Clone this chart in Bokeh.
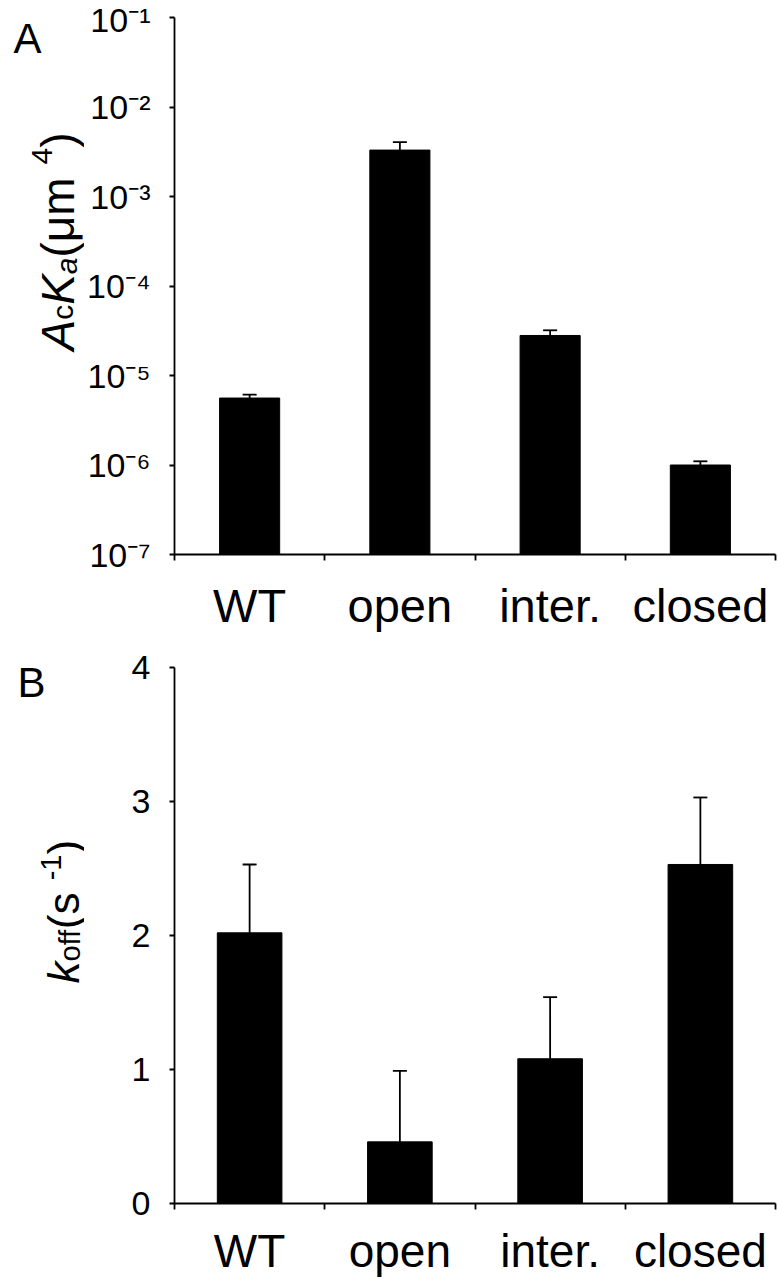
import math
from bokeh.plotting import figure
from bokeh.layouts import column, row
from bokeh.models import (ColumnDataSource, FixedTicker, CustomJSTickFormatter,
                          Whisker, TeeHead, Range1d)
from bokeh.core.properties import value, field
from bokeh.embed import file_html
from bokeh.resources import INLINE

# ---------------- data ----------------
categories = ["WT", "open", "inter.", "closed"]

acka_values = [5.6e-6, 3.3e-3, 2.8e-5, 1.0e-6]
acka_upper = [6.1e-6, 4.05e-3, 3.2e-5, 1.1e-6]
acka_ticks = [1e-7, 1e-6, 1e-5, 1e-4, 1e-3, 1e-2, 1e-1]
acka_tick_labels = ["10⁻⁷", "10⁻⁶", "10⁻⁵", "10⁻⁴", "10⁻³", "10⁻²", "10⁻¹"]

koff_values = [2.02, 0.46, 1.08, 2.53]
koff_errors = [0.51, 0.53, 0.46, 0.50]
koff_ticks = [0, 1, 2, 3, 4]

FONT = "Liberation Sans"

# ---------------- layout geometry (page pixels) ----------------
PAGE_W, PAGE_H = 778, 1279
LEFT_W = 84                      # strip holding panel letters and y titles
MAIN_W = PAGE_W - LEFT_W
FRAME_L, FRAME_R = 170, 775
A_H, A_TOP, A_BOT = 640, 17, 554
B_H, B_TOP, B_BOT = 639, 667, 1203

# advance widths (per em) for Arial-metric font
ADV = {"A": .667, "c": .5, "K": .667, "a": .556, " ": .278, "(": .333, ")": .333,
       "μ": .576, "m": .833, "4": .556, "k": .5, "o": .556, "f": .278, "s": .5,
       "-": .333, "1": .556}


def text_width(t, size):
    return sum(ADV.get(ch, .556) for ch in t) * size


# ---------------- left strip with titles (real text) ----------------
letters = dict(x=[], y=[], text=[], size=[])
vert = dict(x=[], y=[], text=[], size=[], style=[])


def put_letter(txt, px, py, size):
    letters["x"].append(px); letters["y"].append(PAGE_H - py)
    letters["text"].append(txt); letters["size"].append(f"{size}px")


def rich_vertical(pieces, px, py):
    y = py
    for txt, size, style, shift in pieces:
        vert["x"].append(px + shift); vert["y"].append(PAGE_H - y)
        vert["text"].append(txt); vert["size"].append(f"{size}px"); vert["style"].append(style)
        y -= text_width(txt, size)


put_letter("A", 13, 38, 42)
put_letter("B", 17, 682, 42)
rich_vertical([("A", 46, "italic", 0), ("c", 30, "normal", 5),
               ("K", 46, "italic", 0), ("a", 30, "italic", 9),
               (" (μm", 46, "normal", 0), ("4", 30, "normal", -16),
               (")", 46, "normal", 0)], 57, 350)
rich_vertical([("k", 44, "italic", 0), ("off", 29, "normal", 6),
               (" (s", 44, "normal", 0), ("-1", 29, "normal", -13),
               (")", 44, "normal", 0)], 63, 983)

pL = figure(width=LEFT_W, height=PAGE_H, x_range=Range1d(0, LEFT_W), y_range=Range1d(0, PAGE_H),
            x_axis_location=None, y_axis_location=None, output_backend="svg",
            toolbar_location=None, title=None, min_border=0)
pL.grid.visible = False
pL.outline_line_color = None
pL.text(x="x", y="y", text="text", source=ColumnDataSource(data=letters),
        text_font=value(FONT), text_font_size=field("size"),
        text_align="left", text_baseline="alphabetic", text_color="black")
pL.text(x="x", y="y", text="text", source=ColumnDataSource(data=vert), angle=math.pi / 2,
        text_font=value(FONT), text_font_size=field("size"), text_font_style=field("style"),
        text_align="left", text_baseline="alphabetic", text_color="black")


def style_common(p, label_size, standoff):
    p.xgrid.visible = False
    p.ygrid.visible = False
    p.outline_line_color = None
    p.background_fill_color = "white"
    xa = p.xaxis[0]
    xa.ticker = FixedTicker(ticks=[i + 0.5 for i in range(len(categories))],
                            minor_ticks=list(range(len(categories) + 1)))
    xa.formatter = CustomJSTickFormatter(args=dict(cats=categories),
                                         code="const i = Math.floor(tick); return (i >= 0 && i < cats.length) ? cats[i] : '';")
    xa.major_tick_out = 0
    xa.major_tick_in = 0
    xa.minor_tick_out = 6
    xa.minor_tick_in = 0
    xa.minor_tick_line_color = "black"
    xa.minor_tick_line_width = 1.8
    xa.axis_line_color = "black"
    xa.axis_line_width = 1.8
    xa.major_label_text_font = FONT
    xa.major_label_text_font_size = f"{label_size}px"
    xa.major_label_text_color = "black"
    xa.major_label_standoff = standoff

    ya = p.yaxis[0]
    ya.major_tick_out = 5
    ya.major_tick_in = 0
    ya.minor_tick_out = 0
    ya.minor_tick_in = 0
    ya.major_tick_line_color = "black"
    ya.major_tick_line_width = 1.8
    ya.axis_line_color = "black"
    ya.axis_line_width = 1.8
    ya.major_label_text_font = FONT
    ya.major_label_text_font_size = "34px"
    ya.major_label_text_color = "black"
    ya.major_label_standoff = 19


x_pos = [i + 0.5 for i in range(len(categories))]

# ---------------- panel A ----------------
srcA = ColumnDataSource(data=dict(x=x_pos, top=acka_values, upper=acka_upper))
pA = figure(width=MAIN_W, height=A_H, x_range=Range1d(0, 4), y_range=Range1d(1e-7, 1e-1),
            y_axis_type="log", output_backend="svg", toolbar_location=None, title=None,
            min_border_left=FRAME_L - LEFT_W, min_border_right=PAGE_W - FRAME_R,
            min_border_top=A_TOP, min_border_bottom=A_H - A_BOT)
style_common(pA, 47, 18)
pA.yaxis[0].ticker = FixedTicker(ticks=acka_ticks)
pA.yaxis[0].formatter = CustomJSTickFormatter(
    args=dict(tvals=acka_ticks, tlabels=acka_tick_labels),
    code="for (let i = 0; i < tvals.length; i++) { if (Math.abs(Math.log10(tvals[i]) - Math.log10(tick)) < 1e-6) return tlabels[i]; } return '';")
pA.vbar(x="x", width=0.4, bottom=1e-7, top="top", source=srcA,
        fill_color="black", line_color="black")
pA.add_layout(Whisker(source=srcA, base="x", lower="top", upper="upper", dimension="height",
                      line_color="black", line_width=1.8, lower_head=None,
                      upper_head=TeeHead(size=14, line_color="black", line_width=1.8)))

# ---------------- panel B ----------------
srcB = ColumnDataSource(data=dict(x=x_pos, top=koff_values,
                                  upper=[v + e for v, e in zip(koff_values, koff_errors)]))
pB = figure(width=MAIN_W, height=B_H, x_range=Range1d(0, 4), y_range=Range1d(0, 4),
            output_backend="svg", toolbar_location=None, title=None,
            min_border_left=FRAME_L - LEFT_W, min_border_right=PAGE_W - FRAME_R,
            min_border_top=B_TOP - A_H, min_border_bottom=A_H + B_H - B_BOT)
style_common(pB, 46, 15)
pB.yaxis[0].ticker = FixedTicker(ticks=koff_ticks)
pB.vbar(x="x", width=0.43, bottom=0, top="top", source=srcB,
        fill_color="black", line_color="black")
pB.add_layout(Whisker(source=srcB, base="x", lower="top", upper="upper", dimension="height",
                      line_color="black", line_width=1.8, lower_head=None,
                      upper_head=TeeHead(size=14, line_color="black", line_width=1.8)))

layout = row(pL, column(pA, pB, spacing=0), spacing=0)
open("out.html", "w").write(file_html(layout, INLINE))
